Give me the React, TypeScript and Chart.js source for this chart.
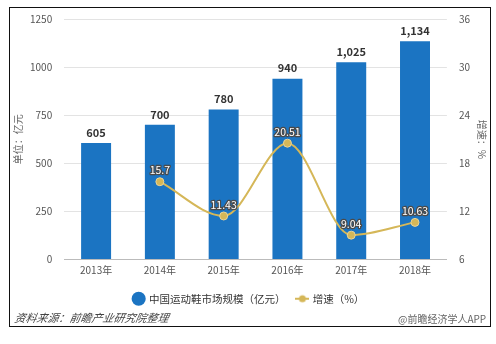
import React, { useEffect, useRef } from "react";
import { Chart, registerables } from "chart.js";

Chart.register(...registerables);

const categories = ["2013年", "2014年", "2015年", "2016年", "2017年", "2018年"];
const marketSize = [605, 700, 780, 940, 1025, 1134];
const growth: (number | null)[] = [null, 15.7, 11.43, 20.51, 9.04, 10.63];
const growthLabels = ["", "15.7", "11.43", "20.51", "9.04", "10.63"];
const sizeLabels = ["605", "700", "780", "940", "1,025", "1,134"];

const BLUE = "#1b74c2";
const GOLD = "#d5b758";
const FONT = "'Noto Sans CJK SC', 'Noto Sans', sans-serif";

function makeLineDot(): HTMLCanvasElement {
  const c = document.createElement("canvas");
  c.width = 14;
  c.height = 10;
  const ctx = c.getContext("2d")!;
  ctx.strokeStyle = GOLD;
  ctx.lineWidth = 2;
  ctx.beginPath();
  ctx.moveTo(0, 5);
  ctx.lineTo(14, 5);
  ctx.stroke();
  ctx.fillStyle = GOLD;
  ctx.beginPath();
  ctx.arc(7, 5, 3.5, 0, Math.PI * 2);
  ctx.fill();
  return c;
}

const labelPlugin = {
  id: "valueLabels",
  afterDatasetsDraw(chart: any) {
    const ctx = chart.ctx;
    ctx.save();
    const barMeta = chart.getDatasetMeta(0);
    ctx.font = `bold 11px ${FONT}`;
    ctx.fillStyle = "#333";
    ctx.textAlign = "center";
    ctx.textBaseline = "bottom";
    barMeta.data.forEach((el: any, i: number) => {
      ctx.fillText(sizeLabels[i], el.x, el.y - 5);
    });
    const lineMeta = chart.getDatasetMeta(1);
    ctx.font = `10.5px ${FONT}`;
    ctx.lineJoin = "round";
    lineMeta.data.forEach((el: any, i: number) => {
      if (growth[i] == null) return;
      ctx.strokeStyle = "#4a4a4a";
      ctx.lineWidth = 2.5;
      ctx.strokeText(growthLabels[i], el.x, el.y - 6);
      ctx.fillStyle = "#ffffff";
      ctx.fillText(growthLabels[i], el.x, el.y - 6);
    });
    ctx.restore();
  },
};

export default function App() {
  const ref = useRef<HTMLCanvasElement>(null);
  useEffect(() => {
    if (!ref.current) return;
    const lineDot = makeLineDot();
    const chart = new Chart(ref.current, {
      type: "bar",
      data: {
        labels: categories,
        datasets: [
          {
            type: "bar",
            label: "中国运动鞋市场规模（亿元）",
            data: marketSize,
            backgroundColor: BLUE,
            barPercentage: 0.47,
            categoryPercentage: 1,
            yAxisID: "y",
            order: 2,
          },
          {
            type: "line",
            label: "增速（%）",
            data: growth,
            borderColor: GOLD,
            backgroundColor: GOLD,
            borderWidth: 2,
            pointRadius: 4,
            pointBackgroundColor: GOLD,
            pointBorderColor: "#e8d59a",
            pointBorderWidth: 1,
            cubicInterpolationMode: "monotone",
            yAxisID: "y1",
            order: 1,
          },
        ] as any,
      },
      options: {
        animation: false,
        responsive: false,
        layout: { padding: { left: 10, right: 8, top: 19, bottom: 22 } },
        plugins: {
          legend: {
            position: "bottom",
            labels: {
              usePointStyle: true,
              boxWidth: 10,
              boxHeight: 10,
              padding: 12,
              color: "#333",
              font: { size: 10.5, family: FONT },
              generateLabels: () => [
                {
                  text: "中国运动鞋市场规模（亿元）",
                  fillStyle: BLUE,
                  strokeStyle: BLUE,
                  lineWidth: 0,
                  pointStyle: "circle",
                  datasetIndex: 0,
                  fontColor: "#333",
                },
                {
                  text: "增速（%）",
                  fillStyle: GOLD,
                  strokeStyle: GOLD,
                  lineWidth: 0,
                  pointStyle: lineDot,
                  datasetIndex: 1,
                  fontColor: "#333",
                },
              ],
            },
          },
          tooltip: { enabled: false },
        },
        scales: {
          x: {
            grid: { display: false, drawTicks: false },
            border: { color: "#bbb" },
            ticks: { color: "#555", font: { size: 10, family: FONT }, padding: 5 },
          },
          y: {
            position: "left",
            min: 0,
            max: 1250,
            ticks: {
              stepSize: 250,
              color: "#555",
              font: { size: 10, family: FONT },
              padding: 12,
              callback: (v: any) => String(v),
            },
            grid: { color: "#e3e3e3", drawTicks: false },
            border: { display: false },
            title: {
              display: true,
              text: "单位：亿元",
              color: "#666",
              font: { size: 10, family: FONT },
              padding: { top: 2, bottom: -6 },
            },
          },
          y1: {
            position: "right",
            min: 6,
            max: 36,
            ticks: {
              stepSize: 6,
              color: "#555",
              font: { size: 10, family: FONT },
              padding: 12,
              callback: (v: any) => String(v),
            },
            grid: { display: false, drawTicks: false },
            border: { display: false },
            title: {
              display: true,
              text: "增速：%",
              color: "#666",
              font: { size: 10, family: FONT },
              padding: { top: 0, bottom: -6 },
            },
          },
        },
      } as any,
      plugins: [labelPlugin],
    });
    return () => chart.destroy();
  }, []);

  return (
    <div style={{ position: "fixed", left: 0, top: 0, width: 496, height: 344, background: "#fff" }}>
      <canvas ref={ref} width={496} height={336} style={{ position: "absolute", left: 0, top: 0 }} />
      <div
        style={{
          position: "absolute",
          left: 9,
          top: 7,
          width: 480,
          height: 318,
          border: "1.5px solid #111",
          pointerEvents: "none",
        }}
      />
      <div
        style={{
          position: "absolute",
          left: 15,
          top: 309,
          fontFamily: FONT,
          fontStyle: "italic",
          fontSize: 11,
          color: "#444",
          transform: "skewX(-10deg)",
        }}
      >
        资料来源：前瞻产业研究院整理
      </div>
      <div
        style={{
          position: "absolute",
          left: 398,
          top: 311,
          fontFamily: FONT,
          fontSize: 10,
          color: "#666",
        }}
      >
        @前瞻经济学人APP
      </div>
    </div>
  );
}
